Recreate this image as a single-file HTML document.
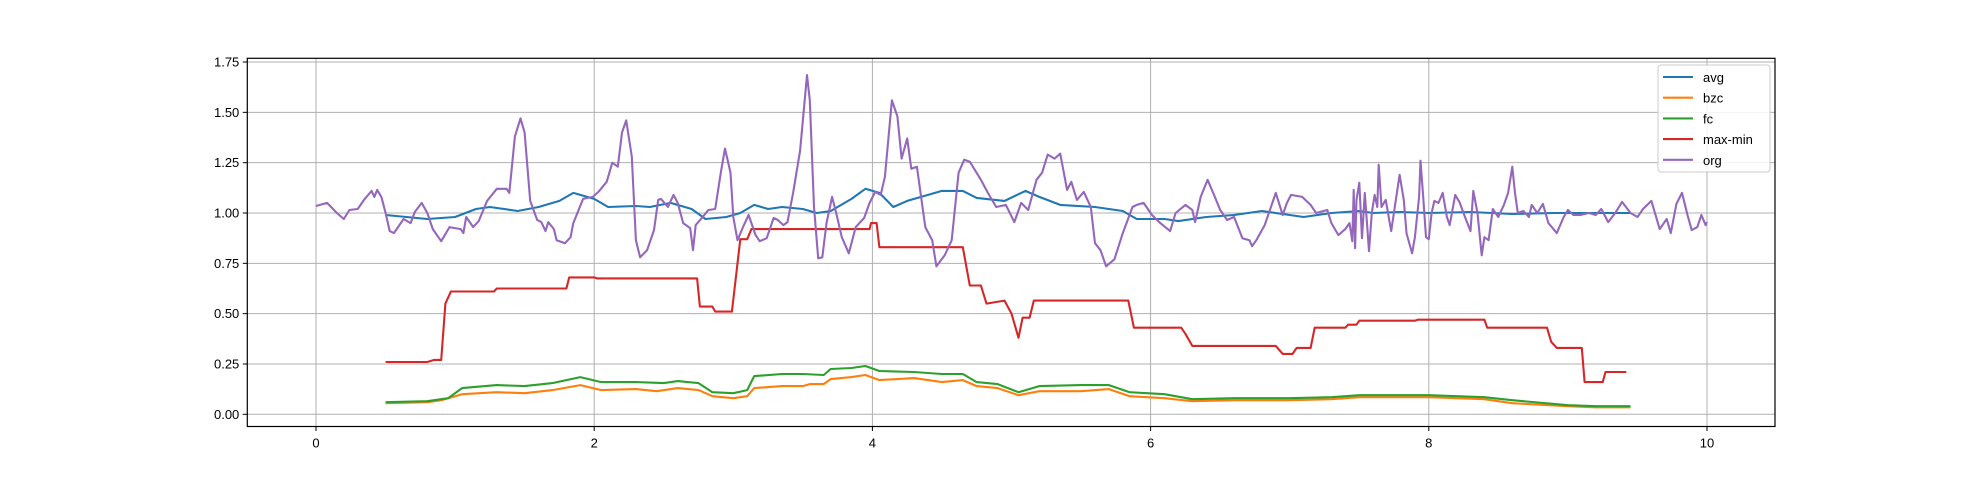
<!DOCTYPE html>
<html><head><meta charset="utf-8">
<style>
html,body{margin:0;padding:0;background:#fff;}
svg{display:block;font-family:"Liberation Sans","DejaVu Sans",sans-serif;}
</style></head>
<body>
<svg id="chart" width="1973" height="480" viewBox="0 0 1973 480" xmlns="http://www.w3.org/2000/svg">
<g id="grid"></g>
<g id="series"></g>
<rect x="247.3" y="58.3" width="1527.7" height="368.2" fill="none" stroke="#000" stroke-width="1.2"/>
<g id="ticks"></g>
<g id="legend">
<rect x="1658" y="65" width="112" height="107" rx="3" fill="#fff" fill-opacity="0.85" stroke="#ccc"/>
</g>
</svg>
<script>
const xTicks=[0,2,4,6,8,10];
const yTicks=[0,0.25,0.5,0.75,1.0,1.25,1.5,1.75];
const yTickLabels=["0.00","0.25","0.50","0.75","1.00","1.25","1.50","1.75"];
const seriesNames=["avg","bzc","fc","max-min","org"];
const seriesColors=["#1f77b4","#ff7f0e","#2ca02c","#d62728","#9467bd"];
const avgX=[0.5,0.8,1.0,1.15,1.25,1.45,1.6,1.75,1.85,2.0,2.1,2.3,2.4,2.55,2.7,2.8,2.95,3.05,3.15,3.25,3.35,3.5,3.6,3.7,3.85,3.95,4.05,4.15,4.25,4.35,4.5,4.65,4.75,4.95,5.1,5.2,5.35,5.6,5.8,5.9,6.1,6.2,6.4,6.6,6.8,7.0,7.1,7.3,7.5,7.6,7.8,8.0,8.3,8.6,8.9,9.2,9.45];
const avgY=[0.99,0.97,0.98,1.02,1.03,1.01,1.03,1.06,1.10,1.07,1.03,1.035,1.03,1.05,1.02,0.97,0.98,1.0,1.04,1.02,1.03,1.02,1.0,1.01,1.07,1.12,1.10,1.03,1.06,1.08,1.11,1.11,1.075,1.06,1.11,1.08,1.04,1.03,1.01,0.97,0.97,0.96,0.98,0.99,1.01,0.99,0.98,1.0,1.01,1.0,1.005,1.0,1.005,0.995,1.0,1.0,1.0];
const bzcX=[0.5,0.8,0.9,1.0,1.05,1.3,1.5,1.7,1.9,2.05,2.3,2.45,2.6,2.75,2.85,3.0,3.1,3.15,3.35,3.5,3.55,3.65,3.7,3.85,3.95,4.05,4.3,4.5,4.65,4.75,4.9,5.05,5.2,5.5,5.7,5.85,6.1,6.3,6.6,7.0,7.3,7.5,8.0,8.4,8.6,9.0,9.2,9.45];
const bzcY=[0.055,0.06,0.07,0.09,0.10,0.11,0.105,0.12,0.145,0.12,0.125,0.115,0.13,0.12,0.09,0.08,0.09,0.13,0.14,0.14,0.15,0.15,0.175,0.185,0.195,0.17,0.18,0.16,0.17,0.14,0.13,0.095,0.115,0.115,0.125,0.09,0.08,0.065,0.07,0.07,0.075,0.085,0.085,0.075,0.055,0.04,0.035,0.035];
const fcX=[0.5,0.8,0.95,1.05,1.3,1.5,1.7,1.9,2.05,2.3,2.5,2.6,2.75,2.85,3.0,3.1,3.15,3.35,3.5,3.65,3.7,3.85,3.95,4.05,4.3,4.5,4.65,4.75,4.9,5.05,5.2,5.5,5.7,5.85,6.1,6.3,6.6,7.0,7.3,7.5,8.0,8.4,8.6,9.0,9.2,9.45];
const fcY=[0.06,0.065,0.08,0.13,0.145,0.14,0.155,0.185,0.16,0.16,0.155,0.165,0.155,0.11,0.105,0.12,0.19,0.2,0.2,0.195,0.225,0.23,0.24,0.215,0.21,0.2,0.2,0.16,0.15,0.11,0.14,0.145,0.145,0.11,0.1,0.075,0.08,0.08,0.085,0.095,0.095,0.085,0.07,0.045,0.04,0.04];
const mmX=[0.5,0.8,0.85,0.9,0.93,0.97,1.28,1.3,1.8,1.82,2.0,2.02,2.74,2.76,2.85,2.87,2.99,3.05,3.1,3.13,3.98,3.99,4.03,4.05,4.65,4.7,4.78,4.82,4.95,5.0,5.05,5.08,5.13,5.16,5.84,5.88,6.22,6.25,6.3,6.9,6.95,7.02,7.05,7.15,7.18,7.4,7.42,7.48,7.5,7.9,7.92,8.4,8.42,8.85,8.88,8.92,9.1,9.12,9.25,9.27,9.42];
const mmY=[0.26,0.26,0.27,0.27,0.55,0.61,0.61,0.625,0.625,0.68,0.68,0.675,0.675,0.535,0.535,0.51,0.51,0.87,0.87,0.92,0.92,0.95,0.95,0.83,0.83,0.64,0.64,0.55,0.565,0.5,0.38,0.48,0.48,0.565,0.565,0.43,0.43,0.40,0.34,0.34,0.30,0.30,0.33,0.33,0.43,0.43,0.445,0.445,0.465,0.465,0.47,0.47,0.43,0.43,0.36,0.33,0.33,0.16,0.16,0.21,0.21];
const orgX=[0,0.08,0.15,0.2,0.24,0.3,0.35,0.4,0.42,0.44,0.47,0.5,0.53,0.56,0.63,0.68,0.71,0.76,0.8,0.84,0.9,0.96,1.04,1.06,1.08,1.13,1.17,1.23,1.3,1.37,1.39,1.43,1.47,1.5,1.54,1.59,1.62,1.65,1.67,1.71,1.73,1.79,1.83,1.85,1.92,1.99,2.03,2.09,2.13,2.17,2.2,2.23,2.27,2.3,2.33,2.38,2.43,2.46,2.48,2.53,2.57,2.6,2.64,2.69,2.71,2.73,2.78,2.82,2.87,2.91,2.94,2.98,3.0,3.03,3.07,3.11,3.16,3.19,3.24,3.29,3.32,3.36,3.39,3.43,3.48,3.53,3.55,3.58,3.61,3.64,3.67,3.71,3.74,3.78,3.83,3.88,3.94,3.98,4.02,4.06,4.09,4.14,4.18,4.21,4.25,4.28,4.32,4.38,4.43,4.46,4.52,4.57,4.62,4.66,4.7,4.78,4.83,4.89,4.96,5.02,5.07,5.12,5.18,5.22,5.26,5.31,5.35,5.4,5.43,5.47,5.52,5.57,5.6,5.64,5.68,5.74,5.8,5.87,5.9,5.95,6.01,6.07,6.14,6.18,6.25,6.3,6.32,6.36,6.41,6.45,6.5,6.55,6.6,6.66,6.71,6.73,6.76,6.82,6.9,6.95,6.98,7.01,7.09,7.15,7.19,7.27,7.3,7.35,7.4,7.43,7.45,7.46,7.47,7.48,7.5,7.52,7.54,7.57,7.59,7.61,7.63,7.64,7.66,7.69,7.73,7.76,7.79,7.82,7.84,7.88,7.9,7.93,7.94,7.96,7.98,8.0,8.02,8.04,8.07,8.1,8.13,8.15,8.19,8.22,8.26,8.3,8.32,8.35,8.38,8.4,8.43,8.46,8.5,8.54,8.57,8.6,8.62,8.64,8.68,8.72,8.74,8.78,8.82,8.86,8.92,8.97,9.0,9.04,9.09,9.15,9.2,9.24,9.29,9.34,9.39,9.45,9.5,9.54,9.6,9.66,9.71,9.74,9.78,9.82,9.86,9.89,9.93,9.96,9.99,10.0];
const orgY=[1.035,1.05,1.0,0.97,1.015,1.02,1.07,1.11,1.08,1.115,1.08,1.0,0.91,0.9,0.97,0.95,1.005,1.05,1.0,0.92,0.86,0.93,0.92,0.9,0.98,0.93,0.96,1.06,1.12,1.12,1.1,1.38,1.47,1.4,1.06,0.965,0.955,0.91,0.955,0.92,0.865,0.85,0.88,0.95,1.07,1.08,1.105,1.155,1.25,1.23,1.4,1.46,1.28,0.865,0.78,0.815,0.915,1.065,1.07,1.03,1.09,1.05,0.95,0.925,0.815,0.94,0.98,1.015,1.02,1.2,1.32,1.2,0.98,0.865,0.93,0.99,0.89,0.86,0.875,0.975,0.965,0.94,0.955,1.1,1.31,1.685,1.56,1.03,0.775,0.78,0.95,1.08,1.0,0.88,0.8,0.93,0.975,1.05,1.105,1.09,1.18,1.56,1.48,1.27,1.37,1.22,1.23,0.93,0.865,0.735,0.79,0.865,1.2,1.265,1.255,1.165,1.1,1.03,1.04,0.955,1.05,1.015,1.165,1.2,1.29,1.27,1.295,1.115,1.155,1.065,1.105,1.03,0.85,0.815,0.735,0.77,0.9,1.03,1.04,1.05,0.99,0.95,0.91,1.0,1.04,1.015,0.955,1.08,1.165,1.1,1.015,0.965,0.98,0.875,0.865,0.835,0.865,0.94,1.1,0.99,1.05,1.09,1.08,1.04,1.0,1.015,0.95,0.89,0.92,0.95,0.86,1.115,0.825,1.065,1.15,0.875,1.1,0.81,1.0,1.09,1.03,1.24,1.03,1.065,0.91,1.05,1.19,1.065,0.9,0.8,0.88,1.08,1.26,1.08,0.88,0.87,1.0,1.06,1.05,1.1,0.98,0.94,1.09,1.055,0.98,0.91,1.11,1.0,0.79,0.88,0.865,1.02,0.98,1.04,1.1,1.23,1.1,1.0,1.01,0.98,1.04,1.0,1.045,0.95,0.9,0.98,1.015,0.99,0.99,1.0,0.99,1.02,0.955,1.0,1.055,1.0,0.98,1.02,1.06,0.92,0.97,0.9,1.045,1.1,0.99,0.915,0.93,0.99,0.94,0.955];

const NS="http://www.w3.org/2000/svg";
const L=247.3,R=1775,T=58.3,B=426.5;
function X(v){return 316+v*139.1;}
function Y(v){return 414.3-v*201.3;}
function mk(tag,attrs,parent){const e=document.createElementNS(NS,tag);for(const k in attrs)e.setAttribute(k,attrs[k]);parent.appendChild(e);return e;}
const grid=document.getElementById('grid'),ticks=document.getElementById('ticks'),ser=document.getElementById('series'),leg=document.getElementById('legend');
xTicks.forEach(t=>{
  const g=mk('line',{x1:X(t),x2:X(t),y1:T,y2:B,stroke:'#b0b0b0','stroke-width':1},grid);
  
  
  const tk=mk('line',{x1:X(t),x2:X(t),y1:B,y2:B+4.5,stroke:'#000','stroke-width':1},ticks);
  
  
  const tx=mk('text',{x:X(t),y:B+21,'text-anchor':'middle','font-size':13,fill:'#000'},ticks);
  tx.textContent=String(t);
  
  
});
yTicks.forEach((t,i)=>{
  const g=mk('line',{x1:L,x2:R,y1:Y(t),y2:Y(t),stroke:'#b0b0b0','stroke-width':1},grid);
  
  
  const tk=mk('line',{x1:L-4.5,x2:L,y1:Y(t),y2:Y(t),stroke:'#000','stroke-width':1},ticks);
  
  
  const tx=mk('text',{x:L-8,y:Y(t)+4.5,'text-anchor':'end','font-size':13,fill:'#000'},ticks);
  tx.textContent=yTickLabels[i];
  
  
});
const allX=[avgX,bzcX,fcX,mmX,orgX],allY=[avgY,bzcY,fcY,mmY,orgY];
[1,2,0,3,4].forEach(s=>{
  const pts=allX[s].map((x,i)=>X(x).toFixed(1)+','+Y(allY[s][i]).toFixed(1)).join(' ');
  const p=mk('polyline',{points:pts,fill:'none',stroke:seriesColors[s],'stroke-width':2.1,'stroke-linejoin':'round'},ser);
  
  
});
seriesNames.forEach((n,i)=>{
  const y=77+i*20.7;
  const l=mk('line',{x1:1663,x2:1693,y1:y,y2:y,stroke:seriesColors[i],'stroke-width':2.1},leg);
  
  
  const t=mk('text',{x:1703,y:y+5,'font-size':13,fill:'#000'},leg);
  t.textContent=n;
  
  
});
</script>
</body></html>
